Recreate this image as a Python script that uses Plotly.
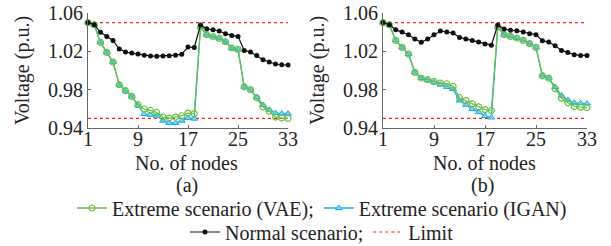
import plotly.graph_objects as go

nodes = list(range(1, 34))

# Panel (a)
normal_a = [1.050, 1.0478, 1.0398, 1.0356, 1.0314, 1.0224, 1.0193, 1.0182, 1.0172, 1.0158,
            1.0152, 1.0150, 1.0152, 1.0155, 1.0160, 1.0170, 1.0245, 1.0240, 1.0475, 1.0436,
            1.0426, 1.0412, 1.0384, 1.0366, 1.0356, 1.0210, 1.0193, 1.0157, 1.0113, 1.0089,
            1.0068, 1.0060, 1.0057]
vae_a = [1.050, 1.0478, 1.0293, 1.0189, 1.0088, 0.9852, 0.9789, 0.9730, 0.9643, 0.9598,
         0.9583, 0.9562, 0.9514, 0.9504, 0.9514, 0.9528, 0.9556, 0.9550, 1.0454, 1.0374,
         1.0355, 1.0335, 1.0300, 1.0235, 1.0220, 0.9830, 0.9800, 0.9715, 0.9620, 0.9575,
         0.9514, 0.9504, 0.9500]
igan_a = [1.050, 1.0478, 1.0293, 1.0189, 1.0088, 0.9852, 0.9789, 0.9730, 0.9635, 0.9546,
          0.9538, 0.9528, 0.9476, 0.9452, 0.9452, 0.9476, 0.9504, 0.9497, 1.0454, 1.0374,
          1.0355, 1.0335, 1.0300, 1.0235, 1.0220, 0.9830, 0.9800, 0.9720, 0.9640, 0.9590,
          0.9556, 0.9550, 0.9550]

# Panel (b)
normal_b = [1.050, 1.0478, 1.0426, 1.0402, 1.0374, 1.0329, 1.0295, 1.0329, 1.0374, 1.0412,
            1.0402, 1.0391, 1.0345, 1.0329, 1.0314, 1.0297, 1.0277, 1.0264, 1.0475, 1.0433,
            1.0419, 1.0415, 1.0402, 1.0384, 1.0374, 1.0311, 1.0297, 1.0259, 1.0210, 1.0189,
            1.0165, 1.0157, 1.0157]
vae_b = [1.050, 1.0478, 1.0314, 1.0241, 1.0172, 0.9980, 0.9922, 0.9904, 0.9886, 0.9869,
         0.9862, 0.9835, 0.9716, 0.9686, 0.9652, 0.9620, 0.9592, 0.9582, 1.0454, 1.0374,
         1.0356, 1.0339, 1.0314, 1.0280, 1.0241, 0.9947, 0.9920, 0.9810, 0.9712, 0.9663,
         0.9625, 0.9618, 0.9612]
igan_b = [1.050, 1.0478, 1.0314, 1.0241, 1.0172, 0.9980, 0.9922, 0.9900, 0.9876, 0.9852,
          0.9828, 0.9807, 0.9686, 0.9641, 0.9599, 0.9565, 0.9525, 0.9510, 1.0454, 1.0374,
          1.0356, 1.0339, 1.0314, 1.0280, 1.0241, 0.9947, 0.9920, 0.9828, 0.9738, 0.9692,
          0.9663, 0.9658, 0.9655]

limit_hi = 1.05
limit_lo = 0.95
x_ticks = [1, 9, 17, 25, 33]
y_ticks = [0.94, 0.98, 1.02, 1.06]

FONT = "Liberation Serif, Times New Roman, Times, serif"
GREEN = "#6cbf48"
BLUE = "#19aee8"
BLACK = "#111111"
RED = "#ff2020"
AXC = "#666666"
TXT = "#222222"

fig = go.Figure()

panels = [("x", "y", normal_a, vae_a, igan_a, True), ("x2", "y2", normal_b, vae_b, igan_b, False)]
for xa, ya, nrm, vae, igan, show in panels:
    for lv in (limit_hi, limit_lo):
        fig.add_trace(go.Scatter(x=[1, 33], y=[lv, lv], mode="lines", xaxis=xa, yaxis=ya,
                                 line=dict(color=RED, width=1.2, dash="dot"),
                                 name="Limit", legend="legend2",
                                 showlegend=(show and lv == limit_hi), cliponaxis=False,
                                 legendrank=2))
    fig.add_trace(go.Scatter(x=nodes, y=igan, mode="lines+markers", xaxis=xa, yaxis=ya,
                             line=dict(color=BLUE, width=1.3),
                             marker=dict(symbol="triangle-up", size=6, color="#7fd3f5",
                                         line=dict(color=BLUE, width=1)),
                             name="Extreme scenario (IGAN)", legend="legend",
                             showlegend=show, cliponaxis=False, legendrank=2))
    fig.add_trace(go.Scatter(x=nodes, y=vae, mode="lines+markers", xaxis=xa, yaxis=ya,
                             line=dict(color=GREEN, width=1.3),
                             marker=dict(symbol="circle-open", size=6, color=GREEN,
                                         line=dict(color=GREEN, width=1.2)),
                             name="Extreme scenario (VAE);", legend="legend",
                             showlegend=show, cliponaxis=False, legendrank=1))
    fig.add_trace(go.Scatter(x=nodes, y=nrm, mode="lines+markers", xaxis=xa, yaxis=ya,
                             line=dict(color=BLACK, width=1.2),
                             marker=dict(symbol="circle", size=5, color=BLACK),
                             name="Normal scenario;", legend="legend2",
                             showlegend=show, cliponaxis=False, legendrank=1))

W, H = 611, 246
def px_x(p):
    return p / W
def px_y(p):
    return 1 - p / H

axis_common = dict(showline=True, linecolor=AXC, linewidth=1, ticks="inside", ticklen=3,
                   tickcolor=AXC, showgrid=False, zeroline=False, automargin=False,
                   tickfont=dict(family=FONT, size=20, color=TXT))

fig.update_layout(
    template="none",
    width=W, height=H, margin=dict(l=0, r=0, t=0, b=0, pad=0, autoexpand=False),
    paper_bgcolor="white", plot_bgcolor="white",
    font=dict(family=FONT, size=20, color=TXT),
    xaxis=dict(domain=[px_x(88), px_x(288)], range=[1, 33], tickvals=x_ticks, anchor="y",
               ticklabelstandoff=-7, **axis_common),
    yaxis=dict(domain=[px_y(128), px_y(13)], range=[0.94, 1.06], tickvals=y_ticks,
               tickformat=".2f", anchor="x", **axis_common),
    xaxis2=dict(domain=[px_x(383), px_x(587)], range=[1, 33], tickvals=x_ticks, anchor="y2",
                ticklabelstandoff=-7, **axis_common),
    yaxis2=dict(domain=[px_y(128), px_y(13)], range=[0.94, 1.06], tickvals=y_ticks,
                tickformat=".2f", anchor="x2", **axis_common),
    legend=dict(orientation="h", x=px_x(322), y=px_y(208), xanchor="center", yanchor="middle",
                font=dict(family=FONT, size=20, color=TXT), itemwidth=30,
                bgcolor="rgba(0,0,0,0)", tracegroupgap=0),
    legend2=dict(orientation="h", x=px_x(322), y=px_y(232), xanchor="center", yanchor="middle",
                 font=dict(family=FONT, size=20, color=TXT), itemwidth=30,
                 bgcolor="rgba(0,0,0,0)", tracegroupgap=0),
    showlegend=True,
)

annots = [
    dict(text="Voltage (p.u.)", x=px_x(23), y=px_y(71), textangle=-90),
    dict(text="Voltage (p.u.)", x=px_x(318), y=px_y(71), textangle=-90),
    dict(text="No. of nodes", x=px_x(186), y=px_y(163)),
    dict(text="No. of nodes", x=px_x(484), y=px_y(163)),
    dict(text="(a)", x=px_x(187), y=px_y(185)),
    dict(text="(b)", x=px_x(482), y=px_y(185)),
]
for a in annots:
    fig.add_annotation(xref="paper", yref="paper", showarrow=False, xanchor="center", yanchor="middle",
                       font=dict(family=FONT, size=20, color=TXT), **a)

fig.write_html("out.html", config={"displayModeBar": False},
               post_script="document.body.style.margin='0';document.body.style.overflow='hidden';")
